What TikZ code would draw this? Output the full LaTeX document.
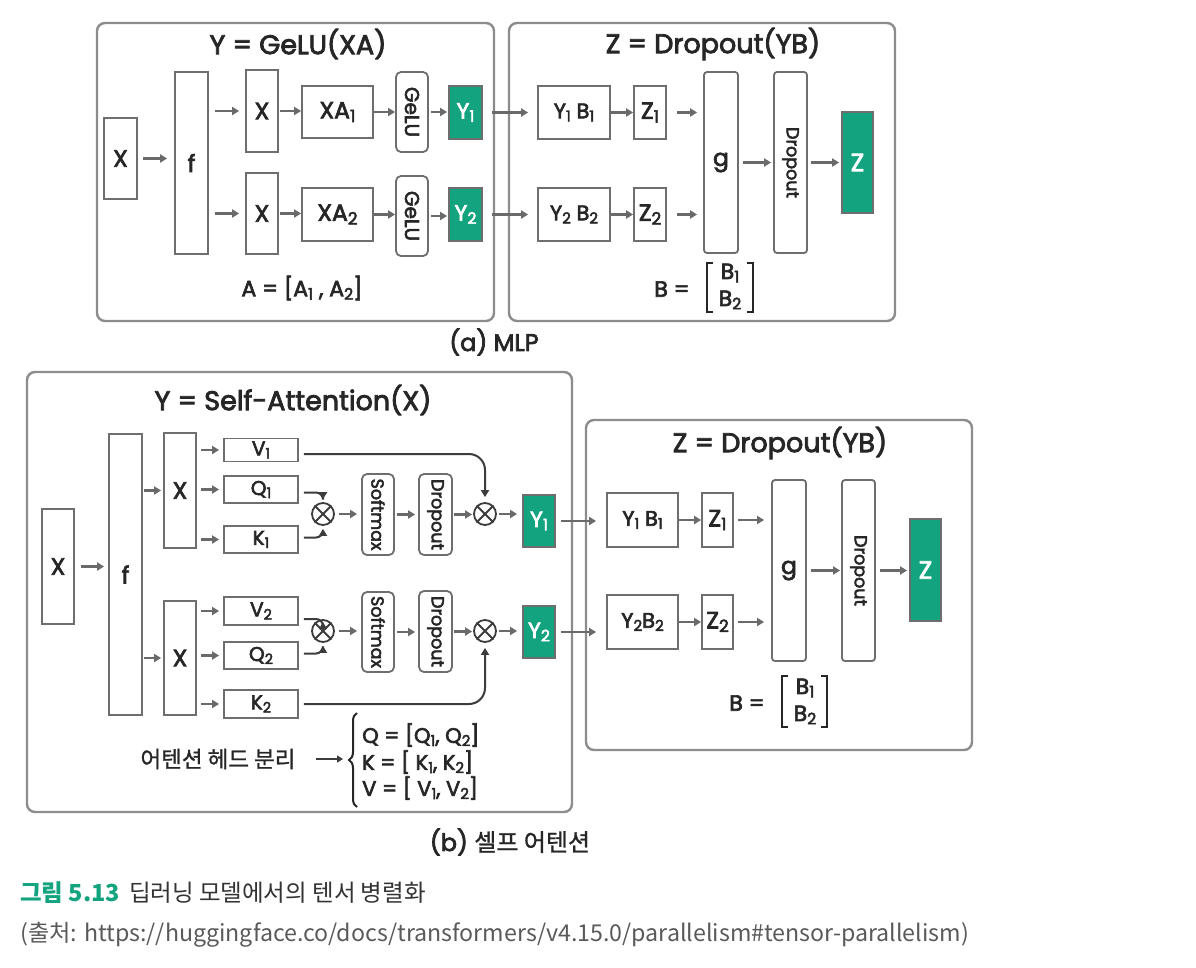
\documentclass[tikz,border=0pt]{standalone}
\usepackage{fontspec}
\usepackage{graphicx}
\setmainfont{Poppins}[FakeBold=3]
\newfontfamily\kr{Noto Sans CJK KR}[FakeBold=1]
\newfontfamily\capf{Noto Sans CJK KR}
\usetikzlibrary{arrows.meta,decorations.pathreplacing}
\definecolor{pg}{HTML}{8C8C8C}
\definecolor{bgc}{HTML}{6E6E6E}
\definecolor{ag}{HTML}{6A6A6A}
\definecolor{dk}{HTML}{3C3C3C}
\definecolor{gr}{HTML}{13A47F}
\definecolor{tx}{HTML}{262626}
\definecolor{captx}{HTML}{333333}
\definecolor{srcx}{HTML}{5A5A5A}
\newcommand\sbs[1]{\raisebox{-0.28ex}{\scalebox{0.72}{#1}}}
\newcommand\ca[3][]{\draw[arr,#1] (#2.east) -- (#2.east -| #3.west);}
\newcommand\cb[3][]{\draw[arr,#1] (#3.west -| #2.east) -- (#3.west);}
\newcommand\fs[1]{\fontsize{#1}{#1}\selectfont}
\begin{document}
\begin{tikzpicture}[x=1pt,y=-1pt,
  panel/.style={draw=pg, line width=2.4, rounded corners=8},
  bx/.style={draw=bgc, line width=1.8, inner sep=0, text=tx, font=\fs{23.5}},
  rbx/.style={bx, rounded corners=5},
  gbx/.style={bx, fill=gr, text=white, font=\fs{22}},
  arr/.style={draw=ag, line width=2.2, -{Triangle[length=7pt,width=8pt]}},
  crv/.style={draw=dk, line width=2, -{Triangle[length=7pt,width=8pt]}},
  otm/.style={circle, draw=dk, line width=1.8, minimum size=22, inner sep=0},
  ttl/.style={inner sep=0, text=tx, font=\fs{27}},
  lbl/.style={inner sep=0, text=tx, font=\fs{22}},
  brk/.style={draw=tx, line width=2.2}]
\useasboundingbox[fill=white] (0,0) rectangle (1196,967);

% ---------------- (a) MLP ----------------
\draw[panel] (97,23) rectangle (494,321);
\draw[panel] (509,23) rectangle (895,321);
\node[ttl] (tA) at (298,44) {Y = GeLU(XA)};
\node[ttl] (tB) at (713,44) {Z = Dropout(YB)};

\node[bx, minimum width=33, minimum height=81] (a0) at (120.5,158.5) {X};
\node[bx, minimum width=33, minimum height=182] (af) at (191.5,163) {f};
\node[bx, minimum width=32, minimum height=82] (ax1) at (262,111) {X};
\node[bx, minimum width=32, minimum height=81] (ax2) at (262,213.5) {X};
\node[bx, minimum width=71, minimum height=52] (axa1) at (337.5,112) {XA\sbs{1}};
\node[bx, minimum width=71, minimum height=53] (axa2) at (337.5,214.5) {XA\sbs{2}};
\node[rbx, minimum width=32, minimum height=80, font=\fs{20}] (ag1) at (412,112) {\rotatebox{-90}{GeLU}};
\node[rbx, minimum width=32, minimum height=80, font=\fs{20}] (ag2) at (412,216) {\rotatebox{-90}{GeLU}};
\node[gbx, minimum width=33, minimum height=53] (ay1) at (465.5,112.5) {Y\sbs{1}};
\node[gbx, minimum width=33, minimum height=53] (ay2) at (465.5,214.5) {Y\sbs{2}};
\node[bx, minimum width=72, minimum height=53, font=\fs{21}] (ayb1) at (574,112.5) {Y\sbs{1} B\sbs{1}};
\node[bx, minimum width=72, minimum height=53, font=\fs{21}] (ayb2) at (574,214.5) {Y\sbs{2} B\sbs{2}};
\node[bx, minimum width=32, minimum height=53] (az1) at (650,112.5) {Z\sbs{1}};
\node[bx, minimum width=32, minimum height=53] (az2) at (650,214.5) {Z\sbs{2}};
\node[rbx, rounded corners=3, minimum width=34, minimum height=181] (agg) at (721,162.5) {g};
\node[rbx, rounded corners=3, minimum width=33, minimum height=181, font=\fs{17.5}] (adr) at (790.5,162.5) {\rotatebox{-90}{Dropout}};
\node[gbx, minimum width=31, minimum height=101, font=\fs{25}] (aZ) at (857.5,162.5) {Z};

\ca[shorten <=5, shorten >=7]{a0}{af}
\cb[shorten <=6, shorten >=6]{af}{ax1}
\cb[shorten <=6, shorten >=6]{af}{ax2}
\ca[shorten <=1]{ax1}{axa1}
\ca[shorten <=1]{ax2}{axa2}
\ca{axa1}{ag1}
\ca{axa2}{ag2}
\ca[shorten <=2, shorten >=1]{ag1}{ay1}
\ca[shorten <=2, shorten >=1]{ag2}{ay2}
\ca[shorten <=9, shorten >=9]{ay1}{ayb1}
\ca[shorten <=9, shorten >=9]{ay2}{ayb2}
\ca{ayb1}{az1}
\ca{ayb2}{az2}
\ca[shorten <=10, shorten >=6]{az1}{agg}
\ca[shorten <=10, shorten >=6]{az2}{agg}
\ca[shorten <=4, shorten >=2]{agg}{adr}
\ca[shorten <=3, shorten >=2]{adr}{aZ}

\node[lbl] (eqA) at (302,288) {A = [A\sbs{1} , A\sbs{2}]};
\node[lbl] (eqB) at (672,289) {B =};
\node[lbl] (eqB1) at (730,273) {B\sbs{1}};
\node[lbl] (eqB2) at (730,300) {B\sbs{2}};
\draw[brk] (713,263) -- (707,263) -- (707,312) -- (713,312);
\draw[brk] (747,263) -- (753,263) -- (753,312) -- (747,312);
\node[ttl, font=\fs{24}] (capa) at (494,342) {(a) MLP};

% ---------------- (b) Self-attention ----------------
\draw[panel] (27,372) rectangle (572,812);
\draw[panel] (586,420) rectangle (972,750);
\node[ttl] (tC) at (293,400) {Y = Self-Attention(X)};
\node[ttl] (tD) at (780,443) {Z = Dropout(YB)};

\node[bx, minimum width=32, minimum height=115] (b0) at (58,566.5) {X};
\node[bx, minimum width=33, minimum height=281] (bf) at (125.5,574.5) {f};
\node[bx, minimum width=32, minimum height=115] (bx1) at (180,490.5) {X};
\node[bx, minimum width=32, minimum height=114] (bx2) at (180,658) {X};
\node[bx, minimum width=74, minimum height=23, font=\fs{20}] (v1) at (261,450) {V\sbs{1}};
\node[bx, minimum width=74, minimum height=27, font=\fs{20}] (q1) at (261,489.5) {Q\sbs{1}};
\node[bx, minimum width=74, minimum height=27, font=\fs{20}] (k1) at (261,539.5) {K\sbs{1}};
\node[bx, minimum width=74, minimum height=28, font=\fs{20}] (v2) at (261,611) {V\sbs{2}};
\node[bx, minimum width=74, minimum height=27, font=\fs{20}] (q2) at (261,655.5) {Q\sbs{2}};
\node[bx, minimum width=74, minimum height=28, font=\fs{20}] (k2) at (261,704) {K\sbs{2}};

\node[otm] (m1) at (323,514) {};
\node[otm] (m2) at (485,514) {};
\node[otm] (m3) at (323,631) {};
\node[otm] (m4) at (485,631) {};
\foreach \m in {m1,m2,m3,m4}{
  \draw[dk, line width=1.8] (\m.north west) -- (\m.south east) (\m.north east) -- (\m.south west);
}
\node[rbx, minimum width=32, minimum height=81, font=\fs{17.5}] (s1) at (378,514.5) {\rotatebox{-90}{Softmax}};
\node[rbx, minimum width=33, minimum height=81, font=\fs{17.5}] (d1) at (435.5,514.5) {\rotatebox{-90}{Dropout}};
\node[rbx, minimum width=32, minimum height=80, font=\fs{17.5}] (s2) at (378,632) {\rotatebox{-90}{Softmax}};
\node[rbx, minimum width=33, minimum height=81, font=\fs{17.5}] (d2) at (435.5,631.5) {\rotatebox{-90}{Dropout}};
\node[gbx, minimum width=32, minimum height=52] (by1) at (539,521) {Y\sbs{1}};
\node[gbx, minimum width=32, minimum height=52] (by2) at (539,632) {Y\sbs{2}};

\node[bx, minimum width=71, minimum height=54, font=\fs{21}] (bb1) at (642.5,520) {Y\sbs{1} B\sbs{1}};
\node[bx, minimum width=71, minimum height=54, font=\fs{21}] (bb2) at (642.5,622) {Y\sbs{2}B\sbs{2}};
\node[bx, minimum width=31, minimum height=54] (bz1) at (717.5,520) {Z\sbs{1}};
\node[bx, minimum width=31, minimum height=54] (bz2) at (717.5,622) {Z\sbs{2}};
\node[rbx, rounded corners=3, minimum width=34, minimum height=181] (bg) at (789,570.5) {g};
\node[rbx, rounded corners=3, minimum width=33, minimum height=181, font=\fs{17.5}] (bd) at (858.5,570.5) {\rotatebox{-90}{Dropout}};
\node[gbx, minimum width=31, minimum height=102, font=\fs{25}] (bZ) at (925.5,570) {Z};

\ca[shorten <=6, shorten >=4]{b0}{bf}
\cb[shorten <=1, shorten >=2]{bf}{bx1}
\cb[shorten <=1, shorten >=2]{bf}{bx2}
\foreach \t in {v1,q1,k1}{ \cb[shorten <=4, shorten >=4]{bx1}{\t} }
\foreach \t in {v2,q2,k2}{ \cb[shorten <=4, shorten >=4]{bx2}{\t} }
\ca[shorten <=4, shorten >=4]{m1}{s1}
\ca[shorten <=4, shorten >=4]{m3}{s2}
\ca[shorten <=2, shorten >=3]{s1}{d1}
\ca[shorten <=2, shorten >=3]{s2}{d2}
\ca[shorten <=1, shorten >=1]{d1}{m2}
\ca[shorten <=1, shorten >=1]{d2}{m4}
\ca[shorten <=2, shorten >=5]{m2}{by1}
\ca[shorten <=2, shorten >=5]{m4}{by2}
\ca[shorten <=5, shorten >=10]{by1}{bb1}
\ca[shorten <=5, shorten >=10]{by2}{bb2}
\ca{bb1}{bz1}
\ca{bb2}{bz2}
\ca[shorten <=4, shorten >=7]{bz1}{bg}
\ca[shorten <=4, shorten >=7]{bz2}{bg}
\ca[shorten <=4, shorten >=1]{bg}{bd}
\ca[shorten <=4, shorten >=2]{bd}{bZ}

\draw[crv, rounded corners=16, shorten >=5] ([xshift=5pt,yshift=-4pt]v1.east) -| (m2.north);
\draw[crv, rounded corners=7, shorten >=3] ([xshift=5pt,yshift=-3pt]q1.east) -| (m1.north);
\draw[crv, rounded corners=7, shorten >=3] ([xshift=5pt,yshift=2pt]k1.east) -| (m1.south);
\draw[crv, rounded corners=7, shorten >=3] ([xshift=5pt,yshift=-8pt]v2.east) -| (m3.north);
\draw[crv, rounded corners=7, shorten >=3] ([xshift=5pt,yshift=2pt]q2.east) -| (m3.south);
\draw[crv, rounded corners=16, shorten >=5] ([xshift=5pt]k2.east) -| (m4.south);

\node[lbl, font=\kr\fs{22.5}] (hd) at (218,759) {어텐션 헤드 분리};
\coordinate (brtop) at (357,713);
\coordinate (brbot) at (357,807);
\draw[tx, line width=2, decorate, decoration={brace, amplitude=8pt}] (brbot) -- (brtop);
\node[lbl, anchor=west, font=\fs{21}] (eqQ) at (362,735) {Q = [Q\sbs{1}, Q\sbs{2}]};
\node[lbl, anchor=west, font=\fs{21}] (eqK) at (362,762) {K = [ K\sbs{1}, K\sbs{2}]};
\node[lbl, anchor=west, font=\fs{21}] (eqV) at (362,788) {V = [ V\sbs{1}, V\sbs{2}]};
\coordinate (brtip) at (347,760);
\draw[dk, line width=1.8, -{Triangle[length=6pt,width=7pt]}, shorten <=20, shorten >=4] (hd.east) -- (hd.east -| brtip);

\node[lbl] (eqD) at (747,703) {B =};
\node[lbl] (eqD1) at (805,688) {B\sbs{1}};
\node[lbl] (eqD2) at (805,715) {B\sbs{2}};
\draw[brk] (788,676) -- (782,676) -- (782,727) -- (788,727);
\draw[brk] (821,676) -- (827,676) -- (827,727) -- (821,727);
\node[ttl, font=\fs{24}] (capb) at (510,842) {(b) {\kr 셀프 어텐션}};

% ---------------- caption ----------------
\node[anchor=west, inner sep=0, font=\capf\fs{23.5}] (cap1) at (20,893) {\textcolor{gr}{\bfseries 그림 5.13}\hspace{9pt}\textcolor{captx}{딥러닝 모델에서의 텐서 병렬화}};
\node[anchor=west, inner sep=0, font=\capf\fs{23.2}, text=srcx] (cap2) at (20,935) {(출처: https://huggingface.co/docs/transformers/v4.15.0/parallelism\#tensor-parallelism)};
\end{tikzpicture}
\end{document}
